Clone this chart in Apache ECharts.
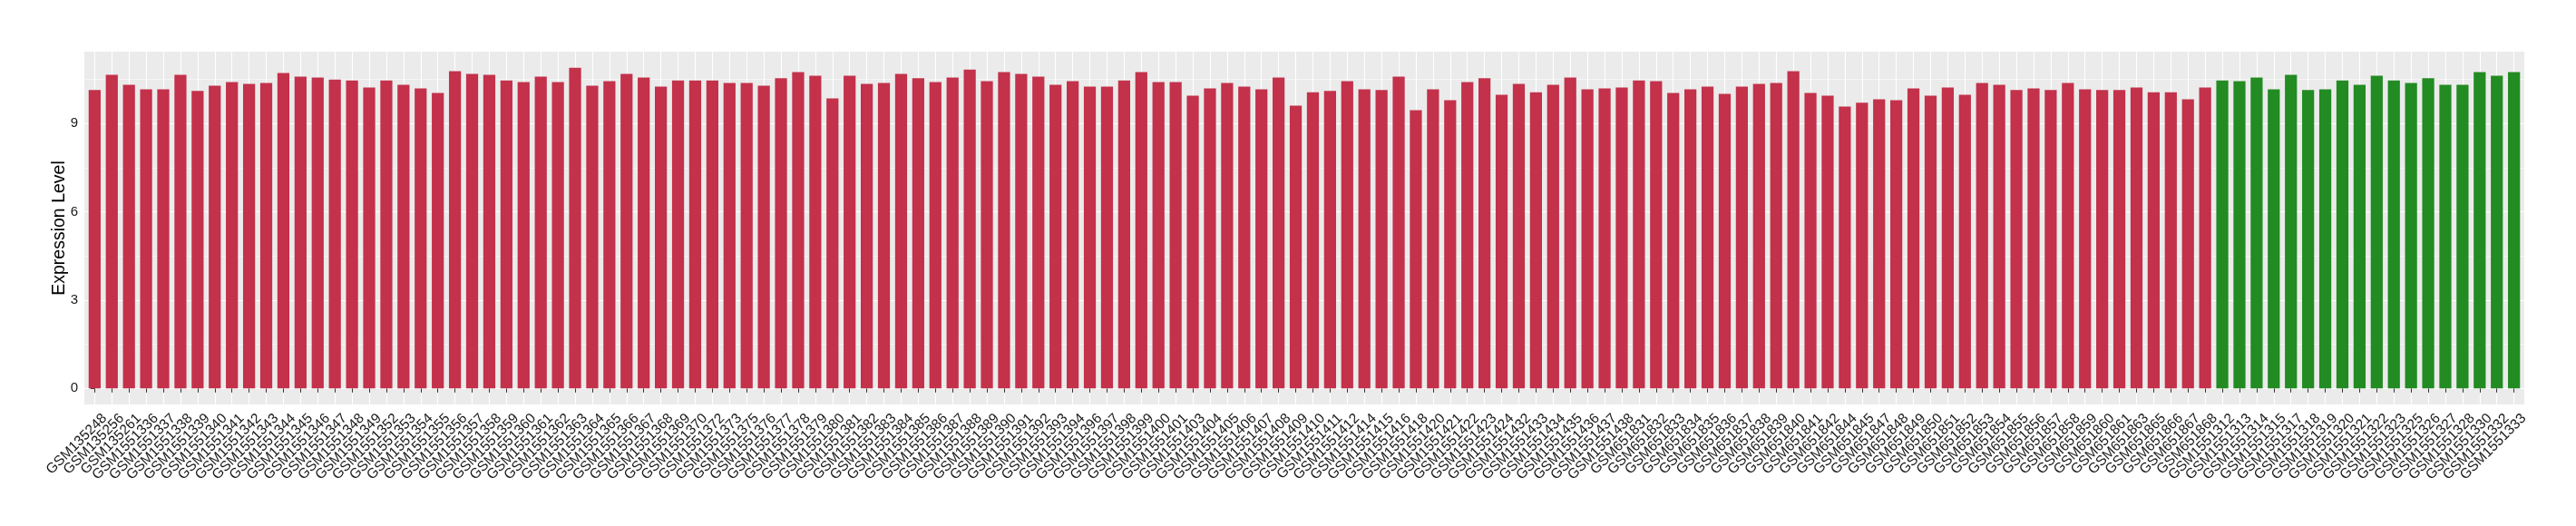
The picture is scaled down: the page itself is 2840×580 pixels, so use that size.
<!DOCTYPE html>
<html>
<head>
<meta charset="utf-8">
<script src="https://cdn.jsdelivr.net/npm/echarts@6/dist/echarts.min.js"></script>
<style>
    html, body { margin: 0; padding: 0; background: #fff; }
    #chart { width: 2840px; height: 580px; }
</style>
</head>
<body>
<div id="chart"></div>
<script>
    // samples of the first group (red bars)
    var redSamples = [
        'GSM135248', 'GSM135256', 'GSM135261', 'GSM1551336', 'GSM1551337', 'GSM1551338', 'GSM1551339', 'GSM1551340',
        'GSM1551341', 'GSM1551342', 'GSM1551343', 'GSM1551344', 'GSM1551345', 'GSM1551346', 'GSM1551347', 'GSM1551348',
        'GSM1551349', 'GSM1551352', 'GSM1551353', 'GSM1551354', 'GSM1551355', 'GSM1551356', 'GSM1551357', 'GSM1551358',
        'GSM1551359', 'GSM1551360', 'GSM1551361', 'GSM1551362', 'GSM1551363', 'GSM1551364', 'GSM1551365', 'GSM1551366',
        'GSM1551367', 'GSM1551368', 'GSM1551369', 'GSM1551370', 'GSM1551372', 'GSM1551373', 'GSM1551375', 'GSM1551376',
        'GSM1551377', 'GSM1551378', 'GSM1551379', 'GSM1551380', 'GSM1551381', 'GSM1551382', 'GSM1551383', 'GSM1551384',
        'GSM1551385', 'GSM1551386', 'GSM1551387', 'GSM1551388', 'GSM1551389', 'GSM1551390', 'GSM1551391', 'GSM1551392',
        'GSM1551393', 'GSM1551394', 'GSM1551396', 'GSM1551397', 'GSM1551398', 'GSM1551399', 'GSM1551400', 'GSM1551401',
        'GSM1551403', 'GSM1551404', 'GSM1551405', 'GSM1551406', 'GSM1551407', 'GSM1551408', 'GSM1551409', 'GSM1551410',
        'GSM1551411', 'GSM1551412', 'GSM1551414', 'GSM1551415', 'GSM1551416', 'GSM1551418', 'GSM1551420', 'GSM1551421',
        'GSM1551422', 'GSM1551423', 'GSM1551424', 'GSM1551432', 'GSM1551433', 'GSM1551434', 'GSM1551435', 'GSM1551436',
        'GSM1551437', 'GSM1551438', 'GSM651831', 'GSM651832', 'GSM651833', 'GSM651834', 'GSM651835', 'GSM651836',
        'GSM651837', 'GSM651838', 'GSM651839', 'GSM651840', 'GSM651841', 'GSM651842', 'GSM651844', 'GSM651845',
        'GSM651847', 'GSM651848', 'GSM651849', 'GSM651850', 'GSM651851', 'GSM651852', 'GSM651853', 'GSM651854',
        'GSM651855', 'GSM651856', 'GSM651857', 'GSM651858', 'GSM651859', 'GSM651860', 'GSM651861', 'GSM651863',
        'GSM651865', 'GSM651866', 'GSM651867', 'GSM651868'
    ];
    var redValues = [
        10.13, 10.65, 10.31, 10.16, 10.16, 10.65, 10.10, 10.28,
        10.40, 10.34, 10.37, 10.71, 10.59, 10.56, 10.49, 10.46,
        10.22, 10.46, 10.31, 10.19, 10.03, 10.77, 10.68, 10.65,
        10.46, 10.40, 10.59, 10.40, 10.89, 10.28, 10.43, 10.68,
        10.56, 10.25, 10.46, 10.46, 10.46, 10.37, 10.37, 10.28,
        10.53, 10.74, 10.62, 9.85, 10.62, 10.34, 10.37, 10.68,
        10.53, 10.40, 10.56, 10.83, 10.43, 10.74, 10.68, 10.59,
        10.31, 10.43, 10.25, 10.25, 10.46, 10.74, 10.40, 10.40,
        9.94, 10.19, 10.37, 10.25, 10.16, 10.56, 9.60, 10.06,
        10.10, 10.43, 10.16, 10.13, 10.59, 9.45, 10.16, 9.79,
        10.40, 10.53, 9.97, 10.34, 10.06, 10.31, 10.56, 10.16,
        10.19, 10.22, 10.46, 10.43, 10.03, 10.16, 10.25, 10.00,
        10.25, 10.34, 10.37, 10.77, 10.03, 9.94, 9.57, 9.70,
        9.82, 9.79, 10.19, 9.94, 10.22, 9.97, 10.37, 10.31,
        10.13, 10.19, 10.13, 10.37, 10.16, 10.13, 10.13, 10.22,
        10.06, 10.06, 9.82, 10.22
    ];

    // samples of the second group (green bars)
    var greenSamples = [
        'GSM1551312', 'GSM1551313', 'GSM1551314', 'GSM1551315', 'GSM1551317', 'GSM1551318', 'GSM1551319', 'GSM1551320',
        'GSM1551321', 'GSM1551322', 'GSM1551323', 'GSM1551325', 'GSM1551326', 'GSM1551327', 'GSM1551328', 'GSM1551330',
        'GSM1551332', 'GSM1551333'
    ];
    var greenValues = [
        10.46, 10.43, 10.56, 10.16, 10.65, 10.13, 10.16, 10.46,
        10.31, 10.62, 10.46, 10.37, 10.53, 10.31, 10.31, 10.74,
        10.62, 10.74
    ];

    var yTicks = [0, 3, 6, 9];
    var yMinorTicks = [1.5, 4.5, 7.5, 10.5];

    var allSamples = redSamples.concat(greenSamples);
    var allValues = redValues.concat(greenValues);
    var n = allSamples.length;
    var yTop = Math.max.apply(null, allValues);
    var yPad = yTop * 0.05;
    var positions = allSamples.map(function (s, i) { return i; });
    // labels split over two axes so neighbouring labels never sit on the same axis
    var evenPositions = positions.filter(function (i) { return i % 2 === 0; });
    var oddPositions = positions.filter(function (i) { return i % 2 === 1; });

    var redData = redValues.map(function (v, i) { return [i, v]; });
    var greenData = greenValues.map(function (v, i) { return [redValues.length + i, v]; });

    var font = 'Liberation Sans, Arial, sans-serif';

    function sampleLabels(values) {
        return {
            customValues: values,
            showMinLabel: true,
            showMaxLabel: true,
            hideOverlap: false,
            rotate: 45,
            margin: 2,
            align: 'right',
            verticalAlign: 'top',
            padding: [7.5, 0, 0, 0],
            fontFamily: font,
            fontSize: 15.5,
            color: '#1a1a1a',
            formatter: function (v) { return allSamples[v]; }
        };
    }

    var myChart = echarts.init(document.getElementById('chart'));

    var option = {
        animation: false,
        backgroundColor: '#ffffff',
        grid: {
            left: 93,
            right: 57,
            top: 57,
            bottom: 134,
            outerBoundsMode: 'none',
            show: true,
            backgroundColor: '#EBEBEB',
            borderWidth: 0
        },
        xAxis: [
            {
                type: 'value',
                min: -0.6,
                max: n - 1 + 0.6,
                axisLine: { show: false },
                axisTick: {
                    show: true,
                    length: 4.5,
                    customValues: positions,
                    lineStyle: { color: '#333333', width: 1 }
                },
                axisLabel: sampleLabels(evenPositions),
                splitLine: {
                    show: true,
                    lineStyle: { color: '#ffffff', width: 1.1 }
                }
            },
            {
                type: 'value',
                min: -0.6,
                max: n - 1 + 0.6,
                position: 'bottom',
                offset: 0,
                axisLine: { show: false },
                axisTick: { show: false, customValues: oddPositions },
                axisLabel: sampleLabels(oddPositions),
                splitLine: { show: false }
            }
        ],
        yAxis: [
            {
                type: 'value',
                min: -yPad,
                max: yTop + yPad,
                name: 'Expression Level',
                nameLocation: 'middle',
                nameGap: 17,
                nameMoveOverlap: false,
                nameTextStyle: {
                    fontFamily: font,
                    fontSize: 19.5,
                    color: '#000000'
                },
                axisLine: { show: false },
                axisTick: {
                    show: true,
                    length: 4.5,
                    customValues: yTicks,
                    lineStyle: { color: '#333333', width: 1 }
                },
                axisLabel: {
                    customValues: yTicks,
                    margin: 7,
                    fontFamily: font,
                    fontSize: 15,
                    color: '#1a1a1a'
                },
                splitLine: {
                    show: true,
                    lineStyle: { color: '#ffffff', width: 1.1 }
                }
            },
            {
                type: 'value',
                min: -yPad,
                max: yTop + yPad,
                axisLine: { show: false },
                axisTick: { show: false, customValues: yMinorTicks },
                axisLabel: { show: false, customValues: yMinorTicks },
                splitLine: {
                    show: true,
                    lineStyle: { color: '#ffffff', width: 0.55 }
                }
            }
        ],
        series: [
            {
                name: 'red',
                type: 'bar',
                barWidth: '70%',
                barGap: '-100%',
                itemStyle: { color: '#C3314A' },
                data: redData
            },
            {
                name: 'green',
                type: 'bar',
                barWidth: '70%',
                barGap: '-100%',
                itemStyle: { color: '#228B22' },
                data: greenData
            }
        ]
    };

    myChart.setOption(option);
</script>
</body>
</html>
